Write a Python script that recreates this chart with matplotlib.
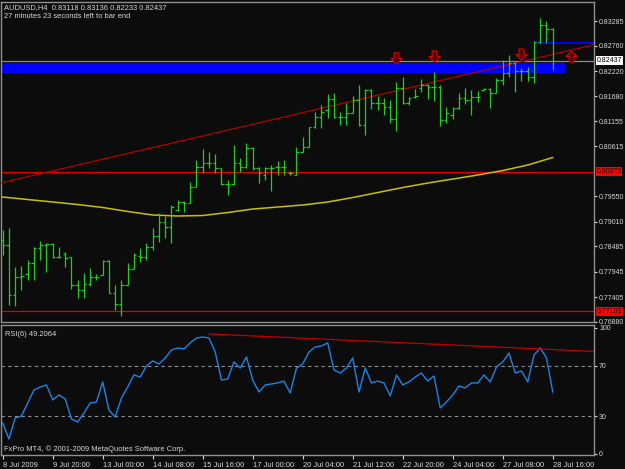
import numpy as np
import matplotlib
matplotlib.use('Agg')
import matplotlib.pyplot as plt
from matplotlib.patches import Rectangle
from matplotlib.path import Path

# AUDUSD H4 bars (oldest first)
opens = [0.78620, 0.78514, 0.77449, 0.77832, 0.77896, 0.78130, 0.78450, 0.78514, 0.78535, 0.78258,
         0.78322, 0.78258, 0.77662, 0.77555, 0.77683, 0.77832, 0.77875, 0.78173, 0.77491, 0.77257,
         0.77662, 0.78003, 0.78280, 0.78258, 0.78471, 0.78706, 0.79004, 0.78897, 0.79259, 0.79430,
         0.79408, 0.79749, 0.80175, 0.80260, 0.80260, 0.80154, 0.79813, 0.79813, 0.80260, 0.80175,
         0.80580, 0.80154, 0.80005, 0.80154, 0.80175, 0.80175, 0.80047, 0.80005, 0.80495, 0.80601,
         0.81027, 0.81240, 0.81389, 0.81624, 0.81240, 0.81240, 0.81325, 0.81602, 0.81070, 0.81815,
         0.81538, 0.81538, 0.81453, 0.81198, 0.81858, 0.81538, 0.81666, 0.81858, 0.81922, 0.81879,
         0.81879, 0.81176, 0.81283, 0.81432, 0.81645, 0.81602, 0.81666, 0.81815, 0.81837, 0.81751,
         0.82028, 0.82177, 0.82390, 0.82220, 0.82220, 0.82092, 0.82838, 0.83200, 0.83118]
highs = [0.78833, 0.78876, 0.78045, 0.78067, 0.78194, 0.78471, 0.78599, 0.78556, 0.78556, 0.78471,
         0.78365, 0.78258, 0.77768, 0.77917, 0.78024, 0.77896, 0.78194, 0.78194, 0.77662, 0.77768,
         0.78130, 0.78343, 0.78450, 0.78556, 0.78876, 0.79195, 0.79132, 0.79366, 0.79472, 0.79451,
         0.79856, 0.80324, 0.80559, 0.80495, 0.80452, 0.80154, 0.79898, 0.80644, 0.80367, 0.80686,
         0.80601, 0.80175, 0.80175, 0.80218, 0.80303, 0.80324, 0.80090, 0.80601, 0.80814, 0.81027,
         0.81347, 0.81496, 0.81730, 0.81751, 0.81347, 0.81538, 0.81688, 0.81922, 0.81837, 0.81837,
         0.81688, 0.81645, 0.81602, 0.81986, 0.82092, 0.81666, 0.81837, 0.82050, 0.81943, 0.82199,
         0.81922, 0.81453, 0.81453, 0.81751, 0.81858, 0.81815, 0.81794, 0.81858, 0.81858, 0.82071,
         0.82454, 0.82561, 0.82412, 0.82284, 0.82305, 0.82859, 0.83349, 0.83285, 0.83136]
lows = [0.78301, 0.77236, 0.77214, 0.77555, 0.77768, 0.77768, 0.78194, 0.77939, 0.78237, 0.78237,
        0.78045, 0.77577, 0.77385, 0.77385, 0.77641, 0.77768, 0.77875, 0.77491, 0.77129, 0.77001,
        0.77662, 0.78003, 0.78152, 0.78194, 0.78407, 0.78578, 0.78663, 0.78556, 0.79238, 0.79217,
        0.79408, 0.79749, 0.80047, 0.80154, 0.80047, 0.79792, 0.79579, 0.79792, 0.80069, 0.80154,
        0.80111, 0.79834, 0.79898, 0.79664, 0.80005, 0.80005, 0.80005, 0.80005, 0.80495, 0.80601,
        0.81006, 0.81006, 0.81219, 0.81219, 0.81070, 0.81070, 0.81325, 0.81049, 0.80857, 0.81411,
        0.81389, 0.81283, 0.81112, 0.80942, 0.81517, 0.81496, 0.81645, 0.81773, 0.81624, 0.81581,
        0.81049, 0.81112, 0.81198, 0.81411, 0.81517, 0.81283, 0.81560, 0.81815, 0.81432, 0.81751,
        0.81922, 0.82092, 0.81773, 0.82007, 0.82007, 0.81964, 0.82816, 0.82816, 0.82233]
closes = [0.78514, 0.77449, 0.77832, 0.77853, 0.78130, 0.78450, 0.78514, 0.78535, 0.78258, 0.78258,
          0.78237, 0.77662, 0.77555, 0.77683, 0.77832, 0.77832, 0.78173, 0.77491, 0.77257, 0.77662,
          0.78003, 0.78301, 0.78258, 0.78471, 0.78706, 0.79004, 0.78897, 0.79323, 0.79430, 0.79408,
          0.79749, 0.80175, 0.80260, 0.80260, 0.80154, 0.79813, 0.79813, 0.80260, 0.80175, 0.80580,
          0.80154, 0.80047, 0.80154, 0.80154, 0.80175, 0.80175, 0.80047, 0.80495, 0.80601, 0.81027,
          0.81240, 0.81347, 0.81624, 0.81240, 0.81240, 0.81325, 0.81602, 0.81070, 0.81815, 0.81538,
          0.81538, 0.81453, 0.81198, 0.81858, 0.81538, 0.81645, 0.81688, 0.81922, 0.81879, 0.81879,
          0.81176, 0.81325, 0.81432, 0.81645, 0.81602, 0.81666, 0.81666, 0.81837, 0.81751, 0.82028,
          0.82177, 0.82390, 0.82220, 0.82220, 0.82092, 0.82838, 0.83200, 0.83115, 0.82437]

# RSI(6) per bar
rsi = [24.6, 11.9, 28.5, 30.1, 40.4, 50.7, 53.1, 54.7, 42.8, 46.8,
       43.6, 27.7, 25.4, 32.5, 40.4, 41.2, 57.1, 34.9, 29.3, 44.4,
       53.1, 62.6, 61.0, 69.7, 73.7, 71.3, 76.1, 82.4, 84.0, 83.2,
       88.0, 91.9, 92.7, 91.9, 80.8, 58.6, 59.4, 72.9, 68.1, 76.9,
       58.6, 49.1, 54.7, 55.5, 56.3, 57.8, 48.3, 68.1, 71.3, 80.8,
       84.8, 85.6, 88.0, 66.6, 64.2, 68.1, 76.1, 49.1, 68.1, 56.3,
       57.8, 56.3, 46.0, 62.6, 54.7, 57.1, 61.0, 64.2, 57.8, 61.8,
       36.5, 41.2, 46.8, 53.9, 52.3, 56.3, 56.3, 62.6, 57.1, 68.9,
       72.9, 80.0, 64.2, 65.8, 57.1, 78.4, 84.0, 76.1, 49.2064]

# yellow moving average, sampled every 4 bars
ma_bars = list(range(0, 89, 4))
ma_vals = [0.79536, 0.79483, 0.79430, 0.79376, 0.79313, 0.79228, 0.79153, 0.79132,
           0.79142, 0.79206, 0.79280, 0.79323, 0.79366, 0.79430, 0.79525, 0.79632,
           0.79738, 0.79834, 0.79919, 0.80005, 0.80100, 0.80218, 0.80378]

time_labels = ["8 Jul 2009", "9 Jul 20:00", "13 Jul 00:00", "14 Jul 08:00", "15 Jul 16:00",
               "17 Jul 00:00", "20 Jul 04:00", "21 Jul 12:00", "22 Jul 20:00", "24 Jul 04:00",
               "27 Jul 08:00", "28 Jul 16:00"]
price_ticks = [0.83285, 0.82760, 0.82220, 0.81680, 0.81155, 0.80615,
               0.79550, 0.79010, 0.78485, 0.77945, 0.77405, 0.76880]
hlines_red = [0.80076, 0.77103]
bid = 0.82437

# drawn objects
trend_main = [(0, 0.79845), (88, 0.82574)]
trend_rsi = [(33, 95.1), (86, 83.2)]
zone_big = (-2, 90.0, 0.82171, 0.82397)
zone_small = (85.3, 100, 0.82801, 0.82843)
down_arrows = [(63, 0.82501), (69, 0.82535), (83, 0.82582)]
up_arrows = [(91, 0.82546)]

BG = '#0b0c0b'
FG = '#d8d8d8'
GRID = '#909090'
BAR = '#22cc22'
FS = 5.4
FS_AX = 5.0

plt.rcParams['font.family'] = ['Liberation Sans', 'DejaVu Sans']
plt.rcParams['font.size'] = FS

W, H = 625, 469
fig = plt.figure(figsize=(W / 100, H / 100), dpi=100, facecolor=BG)

def px_box(x0, y0, x1, y1):
    return [x0 / W, 1 - y1 / H, (x1 - x0) / W, (y1 - y0) / H]

ax = fig.add_axes(px_box(1, 2, 594, 322), facecolor=BG)
ax2 = fig.add_axes(px_box(1, 325, 594, 455), facecolor=BG, sharex=ax)

idx = np.arange(len(opens))
ax.set_xlim(-0.27, 94.6)
ax.set_ylim(0.76874, 0.83690)

# zones
x0, x1, y0, y1 = zone_big
ax.add_patch(Rectangle((x0, y0), x1 - x0, y1 - y0, color='#0000ff', lw=0, zorder=1))
x0, x1, y0, y1 = zone_small
ax.add_patch(Rectangle((x0, y0), x1 - x0, y1 - y0, color='#0000ff', lw=0, zorder=1))

for p in hlines_red:
    ax.axhline(p, color='#e00000', lw=0.9, zorder=2)
ax.axhline(bid, color='#8a8a8a', lw=0.9, zorder=2)

ax.plot(ma_bars, ma_vals, color='#c8c000', lw=1.1, zorder=3)
ax.axline(trend_main[0], trend_main[1], color='#b00000', lw=0.9, zorder=4)

# OHLC bars
ax.vlines(idx, lows, highs, color=BAR, lw=0.9, zorder=5)
ax.hlines(opens, idx - 0.4, idx, color=BAR, lw=0.9, zorder=5)
ax.hlines(closes, idx, idx + 0.4, color=BAR, lw=0.9, zorder=5)

# hollow MT4-style arrows
arrow_dn = Path([(-0.22, 0.5), (0.22, 0.5), (0.22, 0.0), (0.5, 0.0), (0.0, -0.5),
                 (-0.5, 0.0), (-0.22, 0.0), (-0.22, 0.5)], closed=True)
arrow_up = Path([(x, -y) for x, y in arrow_dn.vertices], closed=True)
ax.plot([b for b, _ in down_arrows], [p for _, p in down_arrows], ls='none',
        marker=arrow_dn, ms=8, mfc='#500000', mec='#e00000', mew=0.8, zorder=6)
ax.plot([b for b, _ in up_arrows], [p for _, p in up_arrows], ls='none',
        marker=arrow_up, ms=8, mfc='#500000', mec='#e00000', mew=0.8, zorder=6)

# price scale
ax.yaxis.tick_right()
ax.set_yticks(price_ticks)
ax.set_yticklabels([f'{p:.5f}' for p in price_ticks])
ax.tick_params(axis='y', colors=FG, length=2.5, width=0.8, pad=1.2, labelsize=FS_AX)
ax.tick_params(axis='x', bottom=False, labelbottom=False)
for p in hlines_red:
    ax.text(1.004, p, f'{p:.5f}', transform=ax.get_yaxis_transform(), ha='left', va='center',
            color='#300000', fontsize=FS_AX,
            bbox=dict(fc='#ff0000', ec='none', pad=0.6))
ax.text(1.004, bid, f'{bid:.5f}', transform=ax.get_yaxis_transform(), ha='left', va='center',
        color='#000000', fontsize=FS_AX, bbox=dict(fc='#ffffff', ec='none', pad=0.6))

# RSI panel
ax2.set_ylim(-0.8, 102.2)
ax2.axhline(70, color=GRID, lw=0.8, ls=(0, (3, 3)))
ax2.axhline(30, color=GRID, lw=0.8, ls=(0, (3, 3)))
ax2.plot(idx, rsi, color='#1e82e6', lw=1.0, zorder=3)
(tb0, tv0), (tb1, tv1) = trend_rsi
slope = (tv1 - tv0) / (tb1 - tb0)
ax2.plot([tb0, 100], [tv0, tv0 + slope * (100 - tb0)], color='#c00000', lw=0.9, zorder=4)
ax2.yaxis.tick_right()
ax2.set_yticks([0, 30, 70, 100])
ax2.set_yticklabels(['0', '30', '70', '100'])
ax2.tick_params(axis='y', colors=FG, length=2.5, width=0.8, pad=1.2, labelsize=FS_AX)
ax2.set_xticks(np.arange(0, 89, 8))
ax2.set_xticklabels(time_labels, ha='left')
ax2.tick_params(axis='x', colors=FG, length=3, width=0.8, pad=2, labelsize=FS)

for a in (ax, ax2):
    for s in a.spines.values():
        s.set_color(GRID)
        s.set_linewidth(1.0)

fig.text(4 / W, 1 - 8 / H, 'AUDUSD,H4  0.83118 0.83136 0.82233 0.82437', color=FG,
         fontsize=FS, va='center')
fig.text(4 / W, 1 - 17 / H, '27 minutes 23 seconds left to bar end', color=FG,
         fontsize=FS, va='center')
fig.text(5 / W, 1 - 334 / H, 'RSI(6) 49.2064', color=FG, fontsize=FS, va='center')
fig.text(4 / W, 1 - 449 / H, 'FxPro MT4, \u00a9 2001-2009 MetaQuotes Software Corp.', color=FG,
         fontsize=FS, va='center')

fig.savefig('out.png', dpi=100, facecolor=BG)
